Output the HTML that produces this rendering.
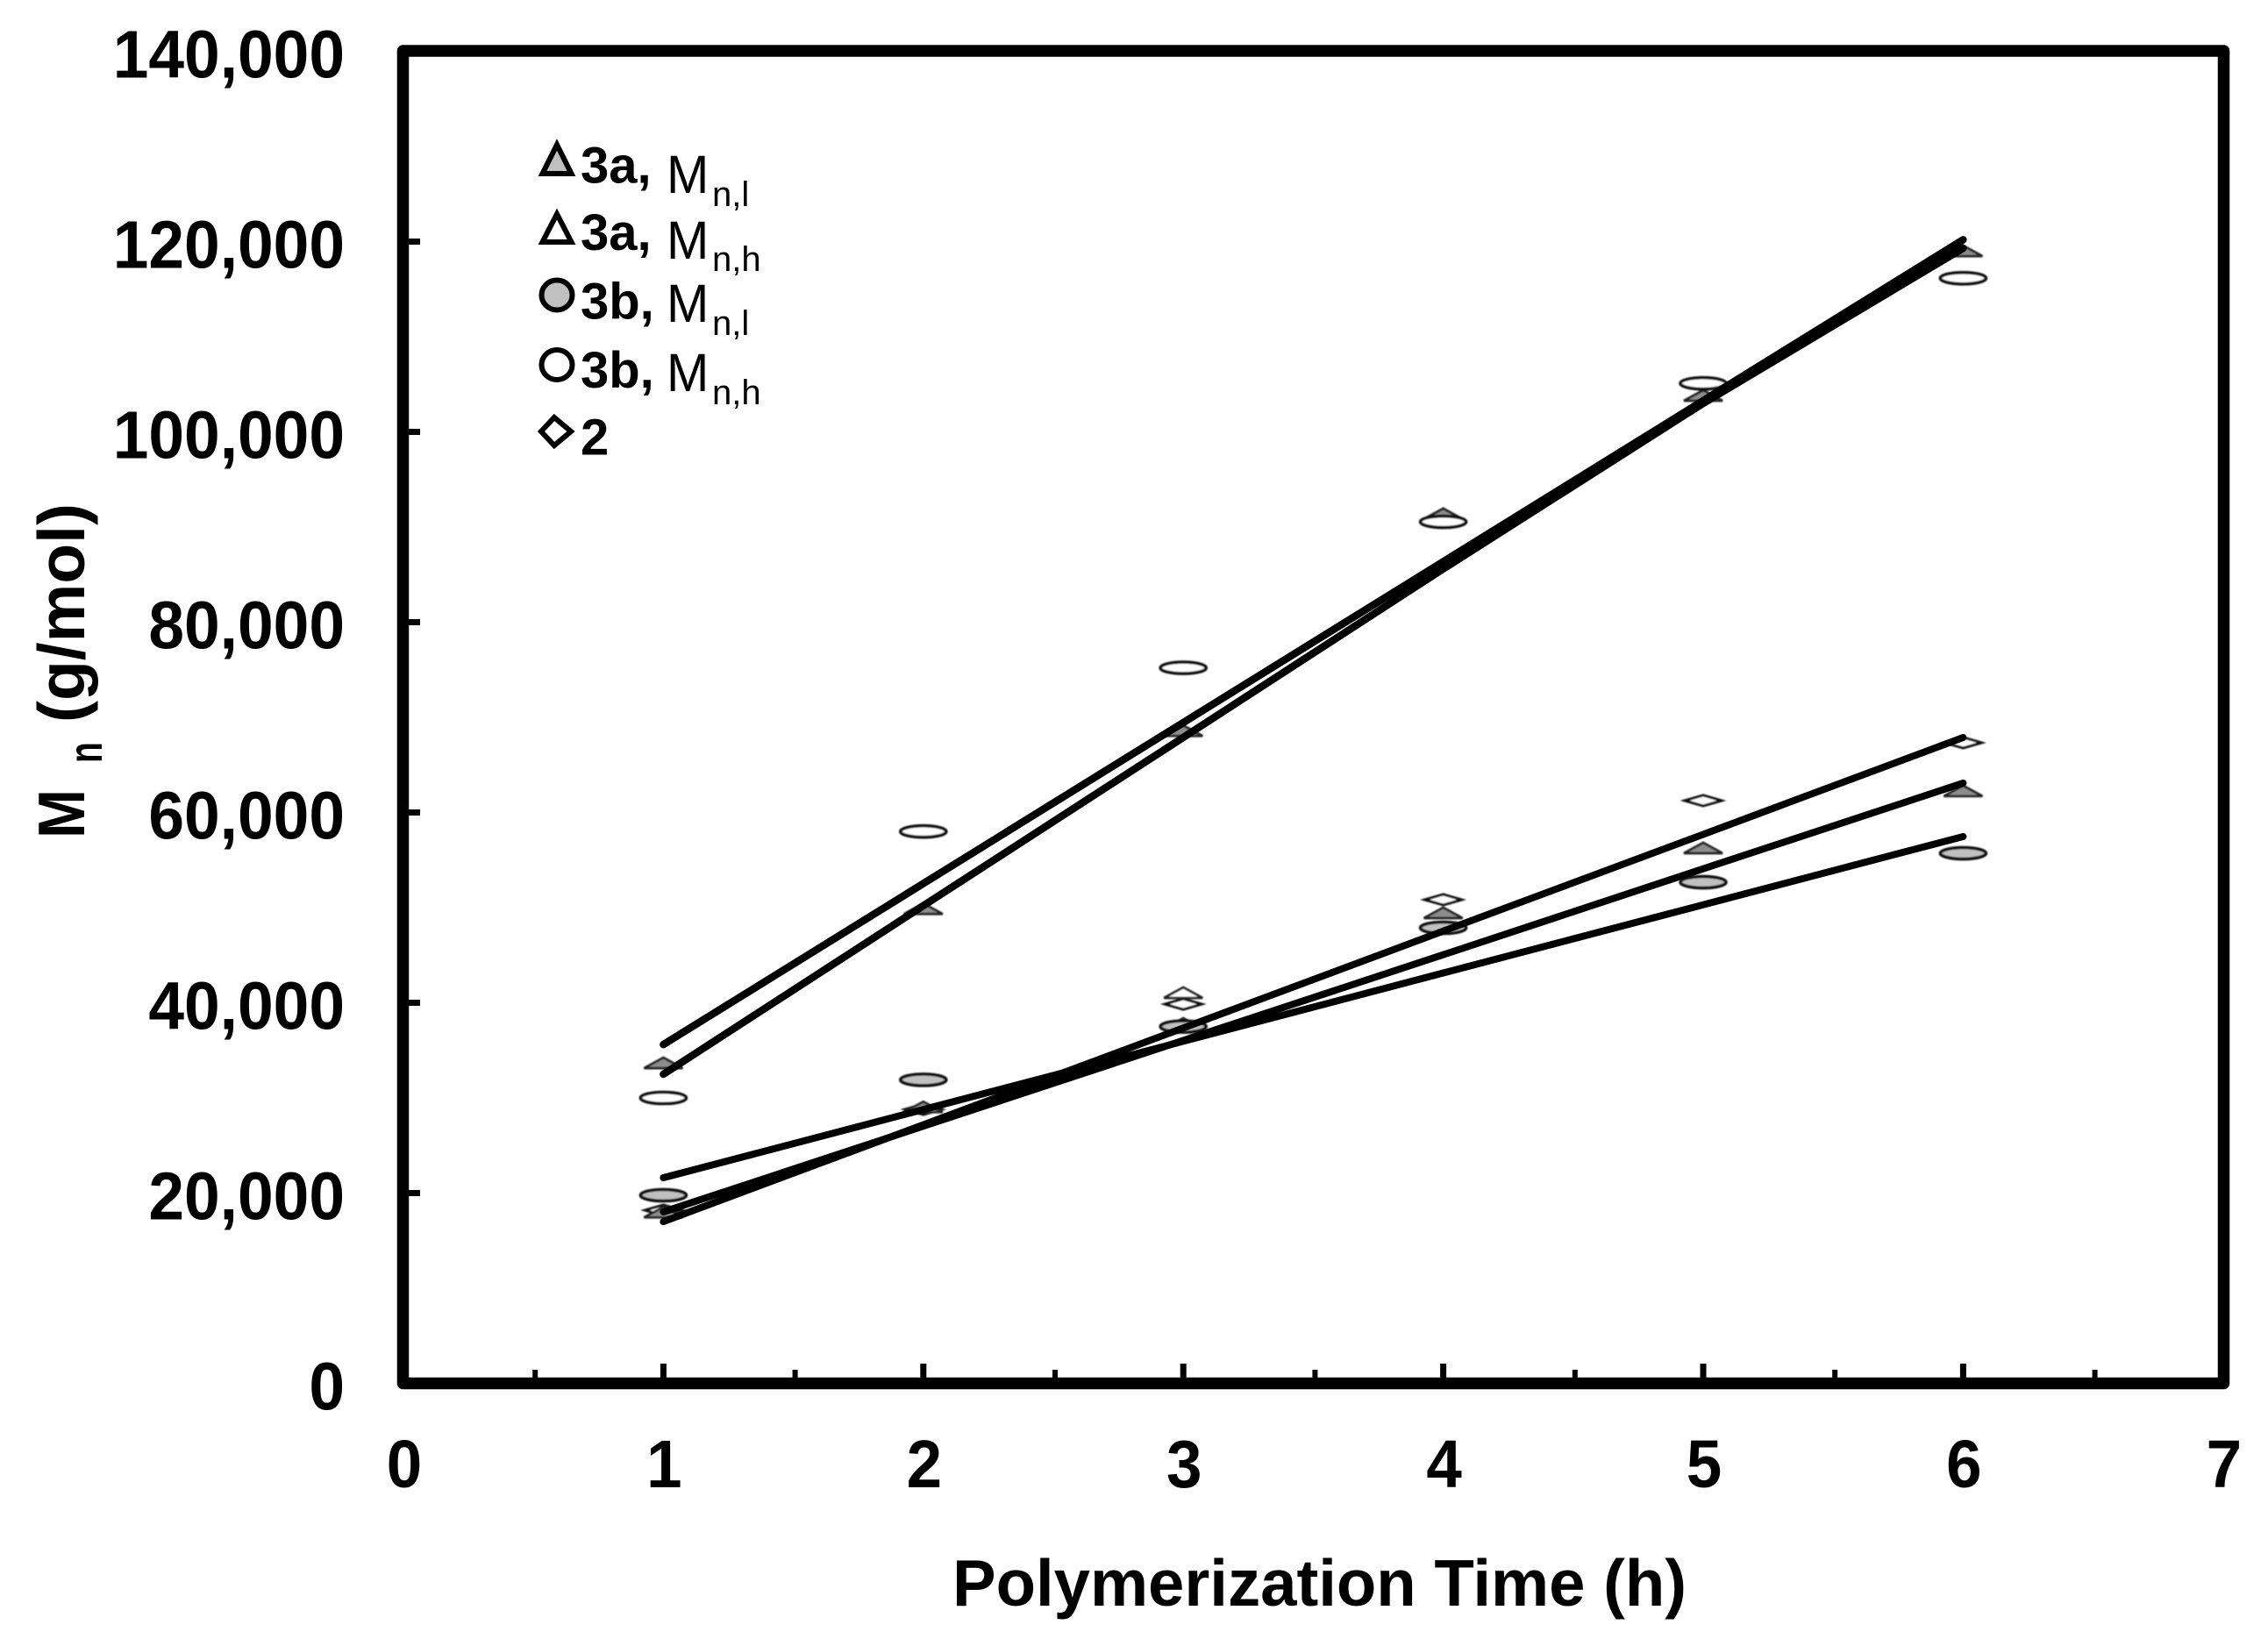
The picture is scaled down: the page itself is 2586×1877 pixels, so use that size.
<!DOCTYPE html>
<html lang="en">
<head>
<meta charset="utf-8">
<title>Mn vs Polymerization Time</title>
<style>
html,body{margin:0;padding:0;background:#fff;width:2586px;height:1877px;overflow:hidden}
svg{display:block}
text{font-family:"Liberation Sans",Arial,sans-serif;fill:#000}
.tick{font-weight:700;font-size:75px}
.title{font-weight:700;font-size:75px}
.lg-b{font-weight:700;font-size:58px}
.lg-m{font-size:61px}
.lg-s{font-size:40px}
</style>
</head>
<body>
<svg id="chart" xmlns="http://www.w3.org/2000/svg" width="2586" height="1877" viewBox="0 0 2586 1877">
  <defs>
    <filter id="soft" x="-20%" y="-60%" width="140%" height="220%"><feGaussianBlur stdDeviation="0.8"/></filter>
  </defs>
  <rect x="0" y="0" width="2586" height="1877" fill="#fff"/>
  <g id="points" filter="url(#soft)"></g>
  <g id="marks"></g>
  <rect x="459.5" y="58" width="2076" height="1519.5" fill="none" stroke="#000" stroke-width="13.5" stroke-linejoin="round"/>
  <g id="axes"></g>
  <text class="title" x="1086" y="1831" textLength="837" lengthAdjust="spacingAndGlyphs">Polymerization Time (h)</text>
  <g>
    <text class="title" transform="translate(96,956) rotate(-90)" textLength="56" lengthAdjust="spacingAndGlyphs">M</text>
    <text class="title" transform="translate(116,870) rotate(-90) scale(.72,1)" style="font-size:54px">n</text>
    <text class="title" transform="translate(96,824) rotate(-90)">(g/mol)</text>
  </g>
  <g>
    <g>
      <polygon points="635,165 651.5,198 618.5,198" fill="#c0c0c0" stroke="#000" stroke-width="6" stroke-linejoin="miter"/>
      <text class="lg-b" x="662" y="208.5">3a,</text>
      <text class="lg-m" transform="translate(760,220) scale(.95,1)">M</text>
      <text class="lg-s" x="812" y="235">n,l</text>
    </g>
    <g>
      <polygon points="635,244 651.5,276 618.5,276" fill="#fff" stroke="#000" stroke-width="6" stroke-linejoin="miter"/>
      <text class="lg-b" x="662" y="285">3a,</text>
      <text class="lg-m" transform="translate(760,295) scale(.95,1)">M</text>
      <text class="lg-s" x="812" y="309">n,h</text>
    </g>
    <g>
      <ellipse cx="635" cy="336.5" rx="17.5" ry="17" fill="#c0c0c0" stroke="#000" stroke-width="6"/>
      <text class="lg-b" x="662" y="363.5">3b,</text>
      <text class="lg-m" transform="translate(760,367) scale(.95,1)">M</text>
      <text class="lg-s" x="812" y="382">n,l</text>
    </g>
    <g>
      <ellipse cx="635" cy="416" rx="17.5" ry="17" fill="#fff" stroke="#000" stroke-width="6"/>
      <text class="lg-b" x="662" y="442">3b,</text>
      <text class="lg-m" transform="translate(760,446) scale(.95,1)">M</text>
      <text class="lg-s" x="812" y="461">n,h</text>
    </g>
    <g>
      <polygon points="632,476 651,492 632,508 617,492" fill="#fff" stroke="#000" stroke-width="6" stroke-linejoin="miter"/>
      <text class="lg-b" x="662" y="518.5">2</text>
    </g>
  </g>
</svg>
<script>
const NS = 'http://www.w3.org/2000/svg';

const hours = [1, 2, 3, 4, 5, 6];
const xTickLabels = ['0', '1', '2', '3', '4', '5', '6', '7'];
const yTickLabels = ['0', '20,000', '40,000', '60,000', '80,000', '100,000', '120,000', '140,000'];
const yTickValues = [0, 20000, 40000, 60000, 80000, 100000, 120000, 140000];
const xMinorValues = [0.5, 1.5, 2.5, 3.5, 4.5, 5.5, 6.5];

const mn3aLow = [17900, 28960, 37730, 49360, 56180, 62180];
const mn3aHigh = [33590, 49800, 68500, 91300, 103730, 118930];
const mn3bLow = [19770, 31900, 37500, 47880, 52670, 55710];
const mn3bHigh = [30000, 58000, 75200, 90550, 105100, 116150];
const polymer2 = [18200, 28800, 39860, 50830, 61250, 67330];
const extraAtThree = [40970];

const trend3aHigh = [35610, 52530, 69450, 86360, 103280, 120200];
const trend3bHigh = [32490, 50200, 67890, 85600, 103000, 119300];
const trend3bLow = [21610, 28780, 35950, 43130, 50300, 57470];
const trend3aLow = [18020, 27030, 36040, 45050, 54080, 63090];
const trend2 = [17000, 27180, 37350, 47530, 57700, 67880];

function xScale(t) { return 460 + t * 296.4; }
function yScale(v) { return 1577.5 - v * 217 / 20000; }

function make(tag, attrs, parent) {
  const el = document.createElementNS(NS, tag);
  for (const k in attrs) el.setAttribute(k, attrs[k]);
  parent.appendChild(el);
  return el;
}

const axes = document.getElementById('axes');
const marks = document.getElementById('marks');
const points = document.getElementById('points');

yTickValues.forEach(function (v, i) {
  const y = yScale(v);
  if (v > 0 && v < 140000) {
    const t = make('rect', { x: 460, y: y - 3.5, width: 19, height: 7, fill: '#000' }, axes);
    
    
  }
  const lab = make('text', { class: 'tick', 'text-anchor': 'end', transform: 'translate(393,' + (y + 30) + ') scale(.975,1.03)' }, axes);
  lab.textContent = yTickLabels[i];
  
  
});

xTickLabels.forEach(function (s, i) {
  const x = xScale(i);
  if (i > 0 && i < 7) {
    const t = make('rect', { x: x - 3.5, y: 1555, width: 7, height: 18, fill: '#000' }, axes);
    
    
  }
  const lab = make('text', { class: 'tick', 'text-anchor': 'middle', transform: 'translate(' + (x + 1) + ',1696) scale(.97,1.03)' }, axes);
  lab.textContent = s;
  
  
});

xMinorValues.forEach(function (t) {
  const m = make('rect', { x: xScale(t) - 3 + 2, y: 1562, width: 6, height: 11, fill: '#000' }, axes);
  
  
});

function drawEllipse(t, v, fill, name) {
  const e = make('ellipse', { cx: xScale(t), cy: yScale(v), rx: 26, ry: 6.5, fill: fill, stroke: '#111', 'stroke-width': 3.6 }, points);
  
  
}
function drawTriangle(t, v, fill, name) {
  const x = xScale(t), y = yScale(v);
  const p = make('polygon', { points: (x - 22) + ',' + (y + 5) + ' ' + x + ',' + (y - 7) + ' ' + (x + 22) + ',' + (y + 5), fill: fill, stroke: '#222', 'stroke-width': 2.8 }, points);
  
  
}
function drawDiamond(t, v, name) {
  const x = xScale(t), y = yScale(v);
  const p = make('polygon', { points: (x - 21) + ',' + y + ' ' + x + ',' + (y - 6) + ' ' + (x + 21) + ',' + y + ' ' + x + ',' + (y + 6), fill: '#fff', stroke: '#111', 'stroke-width': 3 }, points);
  
  
}

hours.forEach(function (t, i) {
  drawDiamond(t, polymer2[i], 'point-polymer-2');
  drawTriangle(t, mn3aHigh[i], '#8c8c8c', 'point-3a-mn-high');
  drawTriangle(t, mn3aLow[i], '#8c8c8c', 'point-3a-mn-low');
  drawEllipse(t, mn3bHigh[i], '#fff', 'point-3b-mn-high');
  drawEllipse(t, mn3bLow[i], '#c0c0c0', 'point-3b-mn-low');
});
extraAtThree.forEach(function (v) {
  drawTriangle(3, v, '#fff', 'point-extra-x3');
});

function drawTrend(values, width, name) {
  const pts = values.map(function (v, i) { return xScale(hours[i]) + ',' + yScale(v); }).join(' ');
  const l = make('polyline', { points: pts, fill: 'none', stroke: '#000', 'stroke-width': width, 'stroke-linecap': 'round', 'stroke-linejoin': 'round' }, marks);
  
  
}
drawTrend(trend3bHigh, 8.5, 'trendline-3b-mn-high');
drawTrend(trend3aHigh, 8.5, 'trendline-3a-mn-high');
drawTrend(trend3bLow, 8, 'trendline-3b-mn-low');
drawTrend(trend3aLow, 8, 'trendline-3a-mn-low');
drawTrend(trend2, 8, 'trendline-polymer-2');
</script>
</body>
</html>
